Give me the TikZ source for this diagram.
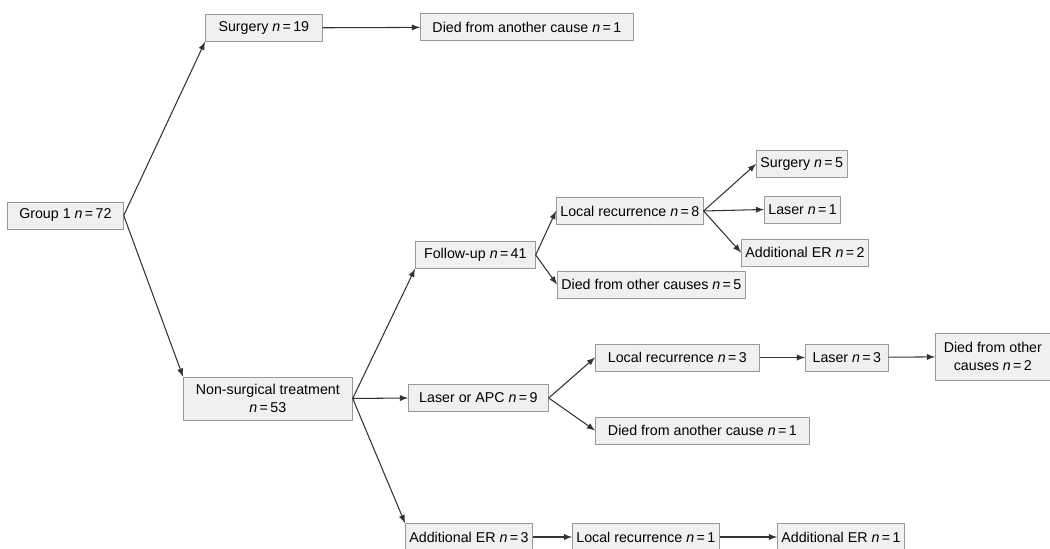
\documentclass[tikz,border=0pt]{standalone}
\usepackage{fontspec}
\setmainfont{Liberation Sans}
\newcommand{\nn}[1]{\textit{n}\,=\,#1}

\begin{document}
\begin{tikzpicture}[
		box/.style={draw=gray!80, fill=gray!12, thin, anchor=west, inner xsep=0.08cm, inner ysep=0.06cm, minimum height=0.54cm, font=\fontsize{8.1}{10}\selectfont},
		arr/.style={->, >=latex, semithick, black!80}
	]
						\useasboundingbox (0,0) rectangle (21,-10.98);
						% first level
						\node[box, minimum width=2.32cm] (grp) at (0.14,-4.31) {Group 1 \nn{72}};
						\node[box, minimum width=2.34cm] (surg) at (4.10,-0.56) {Surgery \nn{19}};
						\node[box, minimum width=4.26cm] (diedA) at (8.40,-0.54) {Died from another cause \nn{1}};
						\node[box, align=center, minimum width=3.38cm, minimum height=0.86cm] (nonsurg) at (3.66,-7.97) {Non-surgical treatment\\ \nn{53}};
						
						% second level
						\node[box, minimum width=2.40cm] (follow) at (8.30,-5.10) {Follow-up \nn{41}};
						\node[box, minimum width=2.80cm] (laserapc) at (8.16,-7.96) {Laser or APC \nn{9}};
						\node[box, minimum width=2.24cm] (adder) at (8.10,-10.74) {Additional ER \nn{3}};
						
						% third level
						\node[box, minimum width=2.62cm] (locA) at (11.12,-4.22) {Local recurrence \nn{8}};
						\node[box, minimum width=3.30cm] (diedB) at (11.14,-5.69) {Died from other causes \nn{5}};
						\node[box, minimum width=3.28cm] (locB) at (11.90,-7.15) {Local recurrence \nn{3}};
						\node[box, minimum width=4.28cm] (diedD) at (11.90,-8.61) {Died from another cause \nn{1}};
						\node[box, minimum width=2.76cm] (locC) at (11.44,-10.74) {Local recurrence \nn{1}};
						
						% last level
						\node[box, minimum width=1.66cm] (surgB) at (15.12,-3.28) {Surgery \nn{5}};
						\node[box, minimum width=1.38cm] (laserB) at (15.28,-4.19) {Laser \nn{1}};
						\node[box, minimum width=2.28cm] (adderB) at (14.82,-5.05) {Additional ER \nn{2}};
						\node[box, minimum width=1.66cm] (laserC) at (16.10,-7.15) {Laser \nn{3}};
						\node[box, align=center, minimum width=2.30cm, minimum height=0.94cm] (diedC) at (18.70,-7.13) {Died from other\\ causes \nn{2}};
						\node[box, minimum width=2.22cm] (adderC) at (15.54,-10.74) {Additional ER \nn{1}};
						
						\draw[arr] (grp.east) -- (surg.south west);
						\draw[arr] (grp.east) -- (nonsurg.north west);
						\draw[arr] (surg) -- (diedA);
						\draw[arr] (nonsurg.east) -- (follow.south west);
						\draw[arr] (nonsurg.east) -- (laserapc.west);
						\draw[arr] (nonsurg.east) -- (adder.north west);
						\draw[arr] (follow.east) -- (locA.west);
						\draw[arr] (follow.east) -- (diedB.west);
						\draw[arr] (locA.east) -- (surgB.west);
						\draw[arr] (locA.east) -- (laserB.west);
						\draw[arr] (locA.east) -- (adderB.west);
						\draw[arr] (laserapc.east) -- (locB.west);
						\draw[arr] (laserapc.east) -- (diedD.west);
						\draw[arr] (locB) -- (laserC);
						\draw[arr] (laserC) -- (diedC);
						\draw[arr] (adder) -- (locC);
						\draw[arr] (locC) -- (adderC);
					\end{tikzpicture}
\end{document}
